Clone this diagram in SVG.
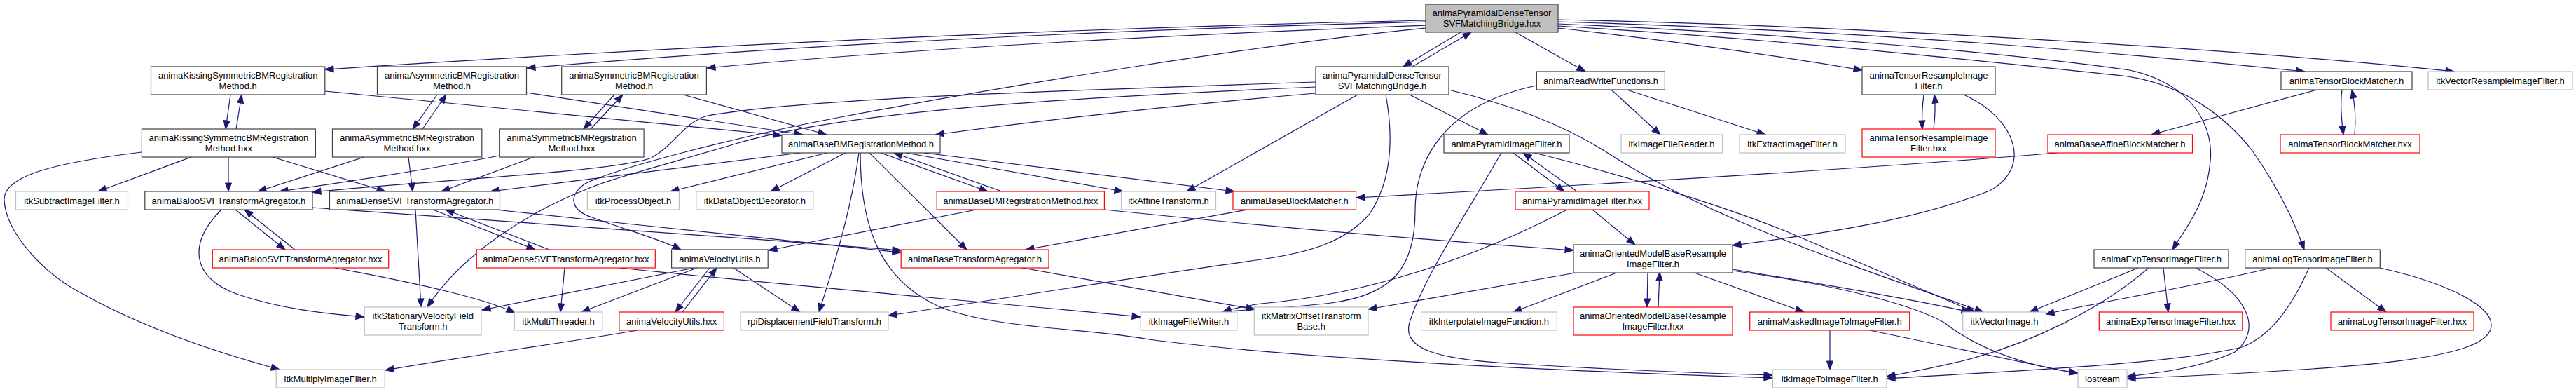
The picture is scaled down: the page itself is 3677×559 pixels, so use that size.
<svg xmlns="http://www.w3.org/2000/svg" width="3677" height="559" viewBox="0 0 3677 559">
<style>
.e{fill:none;stroke:#191970;stroke-width:1.2;marker-end:url(#ah)}
rect{fill:#fff;stroke-width:1.2}
.k rect{stroke:#404040}
.r rect{stroke:#ff0000}
.g rect{stroke:#bfbfbf}
.root rect{fill:#bfbfbf;stroke:#404040}
text{font-family:"Liberation Sans",Arial,Helvetica,sans-serif;font-size:13px;text-anchor:middle;fill:#000}
</style>
<defs>
<marker id="ah" markerUnits="userSpaceOnUse" markerWidth="14" markerHeight="11" refX="12" refY="4.5" orient="auto" overflow="visible"><path d="M0,0 L12,4.5 L0,9 z" fill="#191970" stroke="#191970" stroke-width="1"/></marker>
</defs>
<rect x="0" y="0" width="3677" height="559" fill="#fff" stroke="none"/>
<g id="edges">
<path class="e" d="M2035,29 Q1300,45 464,99"/>
<path class="e" d="M2035,31 Q1300,50 752,97"/>
<path class="e" d="M2035,36 Q1400,60 1009,97"/>
<path class="e" d="M2085,46 L2003,95"/>
<path class="e" d="M2016,95 L2100,46"/>
<path class="e" d="M2163,46 L2263,102"/>
<path class="e" d="M2224,40 Q2450,65 2658,100"/>
<path class="e" d="M2224,31 C2700,45 3050,78 3290,102"/>
<path class="e" d="M2224,28 C2700,38 3250,75 3503,102"/>
<path class="e" d="M2224,34 C2600,50 2900,80 3040,100 C3130,120 3160,180 3155,230 C3150,290 3120,325 3101,356"/>
<path class="e" d="M2224,37 C2600,60 2900,95 3030,108 C3120,120 3180,170 3215,215 C3250,265 3275,315 3289,356"/>
<path class="e" d="M2035,40 C1800,63 1450,120 1200,167 C1050,195 880,240 835,262 C810,280 815,300 845,310 C900,330 945,342 972,356"/>
<path class="e" d="M1878,117 C1500,130 1150,140 1010,165 C975,175 965,205 930,225 C880,245 600,258 446,274"/>
<path class="e" d="M1878,124 C1500,140 1200,160 1050,205 C950,235 870,255 837,270 C760,300 660,360 610,438"/>
<path class="e" d="M1878,133 C1700,148 1500,170 1335,192"/>
<path class="e" d="M1938,135 L1694,273"/>
<path class="e" d="M2012,135 L2124,192"/>
<path class="e" d="M1978,135 C1990,200 1985,260 1955,305 C1920,345 1870,360 1800,370 C1620,395 1420,428 1268,450"/>
<path class="e" d="M2068,128 C2180,155 2250,190 2290,215 C2450,320 2680,390 2831,445"/>
<path class="e" d="M329,135 L322,184"/>
<path class="e" d="M337,184 L345,135"/>
<path class="e" d="M464,130 L1116,193"/>
<path class="e" d="M624,135 L589,184"/>
<path class="e" d="M603,184 L637,135"/>
<path class="e" d="M751,132 L1146,192"/>
<path class="e" d="M877,135 L833,184"/>
<path class="e" d="M843,184 L889,135"/>
<path class="e" d="M975,135 L1180,192"/>
<path class="e" d="M273,224 L140,273"/>
<path class="e" d="M326,224 L326,273"/>
<path class="e" d="M389,224 L550,273"/>
<path class="e" d="M202,217 C80,232 5,250 6,285 C8,330 60,390 120,420 C200,465 300,500 399,527"/>
<path class="e" d="M520,224 L368,273"/>
<path class="e" d="M583,224 L589,273"/>
<path class="e" d="M713,222 C620,240 480,262 399,273"/>
<path class="e" d="M762,224 L630,273"/>
<path class="e" d="M1142,218 L700,273"/>
<path class="e" d="M1181,218 L957,273"/>
<path class="e" d="M1207,218 L1100,273"/>
<path class="e" d="M1226,218 C1215,300 1190,380 1169,445"/>
<path class="e" d="M1228,218 C1228,330 1260,400 1340,437 C1420,470 1560,468 1640,484 C1800,505 2100,525 2530,539"/>
<path class="e" d="M1257,218 L1410,273"/>
<path class="e" d="M1430,273 L1276,218"/>
<path class="e" d="M1293,218 L1603,273"/>
<path class="e" d="M1319,218 L1762,273"/>
<path class="e" d="M1241,218 L1380,356"/>
<path class="e" d="M1394,299 L1097,357"/>
<path class="e" d="M1576,299 C1800,322 2000,340 2246,357"/>
<path class="e" d="M1781,299 L1464,356"/>
<path class="e" d="M2936,218 C2700,238 2300,262 1936,282"/>
<path class="e" d="M3307,128 L3071,192"/>
<path class="e" d="M3343,128 C3340,150 3342,170 3345,192"/>
<path class="e" d="M3361,192 C3363,170 3362,150 3357,128"/>
<path class="e" d="M2746,135 C2744,150 2743,168 2744,184"/>
<path class="e" d="M2760,184 C2762,168 2763,150 2761,135"/>
<path class="e" d="M2803,135 C2880,170 2900,240 2840,272 C2720,320 2560,338 2473,350"/>
<path class="e" d="M2300,128 L2370,192"/>
<path class="e" d="M2322,128 L2520,192"/>
<path class="e" d="M2193,122 C2060,150 2020,230 2020,300 C2020,380 1990,420 1900,432 C1830,440 1780,441 1745,445"/>
<path class="e" d="M2160,218 L2233,273"/>
<path class="e" d="M2251,273 L2174,218"/>
<path class="e" d="M2190,218 C2300,245 2450,290 2550,330 C2650,372 2750,415 2819,445"/>
<path class="e" d="M2143,218 C2090,310 2030,400 2012,460 C2000,500 2060,512 2150,518 C2300,527 2420,532 2530,535"/>
<path class="e" d="M2273,299 L2334,349"/>
<path class="e" d="M2237,299 C2100,370 1950,420 1800,433 C1780,436 1760,440 1745,445"/>
<path class="e" d="M2352,388 L2351,438"/>
<path class="e" d="M2367,438 L2369,388"/>
<path class="e" d="M2255,388 L1953,441"/>
<path class="e" d="M2310,388 L2160,445"/>
<path class="e" d="M2416,388 L2575,445"/>
<path class="e" d="M2473,384 C2600,405 2720,425 2812,445"/>
<path class="e" d="M2473,386 C2650,410 2740,440 2775,460 C2820,495 2880,520 2966,532"/>
<path class="e" d="M2612,471 L2612,527"/>
<path class="e" d="M2669,471 L2966,533"/>
<path class="e" d="M991,382 L688,442"/>
<path class="e" d="M995,382 L830,445"/>
<path class="e" d="M1013,382 L964,445"/>
<path class="e" d="M974,445 L1023,382"/>
<path class="e" d="M1047,382 L1142,445"/>
<path class="e" d="M910,471 C800,490 650,510 550,528"/>
<path class="e" d="M806,382 L800,445"/>
<path class="e" d="M885,382 C1100,405 1400,430 1628,452"/>
<path class="e" d="M784,356 L636,299"/>
<path class="e" d="M618,299 L764,356"/>
<path class="e" d="M707,299 C900,320 1100,340 1286,360"/>
<path class="e" d="M593,299 L601,438"/>
<path class="e" d="M336,299 L407,356"/>
<path class="e" d="M421,356 L349,299"/>
<path class="e" d="M316,299 C270,345 270,395 340,420 C400,440 460,447 520,452"/>
<path class="e" d="M446,296 C700,312 1000,335 1286,357"/>
<path class="e" d="M478,382 C600,405 690,425 735,446"/>
<path class="e" d="M1459,382 L1791,441"/>
<path class="e" d="M3052,382 L2897,445"/>
<path class="e" d="M3067,382 C3000,440 2900,490 2800,515 C2750,527 2720,532 2693,537"/>
<path class="e" d="M3088,382 L3095,445"/>
<path class="e" d="M3134,382 C3210,420 3230,470 3190,502 C3140,525 3080,532 3036,537"/>
<path class="e" d="M3242,382 C3150,405 3000,430 2920,448"/>
<path class="e" d="M3296,382 C3270,440 3240,480 3200,495 C3100,520 2850,530 2693,540"/>
<path class="e" d="M3320,382 L3406,445"/>
<path class="e" d="M3397,382 C3500,405 3565,440 3555,470 C3540,510 3400,525 3036,540"/>
</g>
<g id="n1" class="root"><rect x="2035" y="6" width="189" height="40"/><text x="2129.5" y="22.5">animaPyramidalDenseTensor</text><text x="2129.5" y="37.5">SVFMatchingBridge.hxx</text></g>
<g id="n2" class="k"><rect x="1878" y="95" width="190" height="40"/><text x="1973" y="111.5">animaPyramidalDenseTensor</text><text x="1973" y="126.5">SVFMatchingBridge.h</text></g>
<g id="n3" class="k"><rect x="215.5" y="95" width="248.3" height="40"/><text x="339.7" y="111.5">animaKissingSymmetricBMRegistration</text><text x="339.7" y="126.5">Method.h</text></g>
<g id="n4" class="k"><rect x="538.5" y="95" width="213" height="40"/><text x="645" y="111.5">animaAsymmetricBMRegistration</text><text x="645" y="126.5">Method.h</text></g>
<g id="n5" class="k"><rect x="801.7" y="95" width="206.7" height="40"/><text x="905" y="111.5">animaSymmetricBMRegistration</text><text x="905" y="126.5">Method.h</text></g>
<g id="n6" class="k"><rect x="2193.4" y="102" width="183" height="26"/><text x="2285" y="119.5">animaReadWriteFunctions.h</text></g>
<g id="n7" class="k"><rect x="2658" y="95" width="190" height="40"/><text x="2753" y="111.5">animaTensorResampleImage</text><text x="2753" y="126.5">Filter.h</text></g>
<g id="n8" class="k"><rect x="3256" y="102" width="187" height="26"/><text x="3349.5" y="119.5">animaTensorBlockMatcher.h</text></g>
<g id="n9" class="g"><rect x="3466" y="102" width="206" height="26"/><text x="3569" y="119.5">itkVectorResampleImageFilter.h</text></g>
<g id="n10" class="k"><rect x="202.4" y="184" width="248" height="40"/><text x="326.4" y="200.5">animaKissingSymmetricBMRegistration</text><text x="326.4" y="215.5">Method.hxx</text></g>
<g id="n11" class="k"><rect x="474.5" y="184" width="213.3" height="40"/><text x="581" y="200.5">animaAsymmetricBMRegistration</text><text x="581" y="215.5">Method.hxx</text></g>
<g id="n12" class="k"><rect x="712.7" y="184" width="206.4" height="40"/><text x="816" y="200.5">animaSymmetricBMRegistration</text><text x="816" y="215.5">Method.hxx</text></g>
<g id="n13" class="k"><rect x="1116" y="192" width="226" height="26"/><text x="1229" y="209.5">animaBaseBMRegistrationMethod.h</text></g>
<g id="n14" class="k"><rect x="2061" y="192" width="179" height="26"/><text x="2150.5" y="209.5">animaPyramidImageFilter.h</text></g>
<g id="n15" class="g"><rect x="2314" y="192" width="144.5" height="26"/><text x="2386" y="209.5">itkImageFileReader.h</text></g>
<g id="n16" class="g"><rect x="2483" y="192" width="151" height="26"/><text x="2558.5" y="209.5">itkExtractImageFilter.h</text></g>
<g id="n17" class="r"><rect x="2658" y="184" width="190" height="40"/><text x="2753" y="200.5">animaTensorResampleImage</text><text x="2753" y="215.5">Filter.hxx</text></g>
<g id="n18" class="r"><rect x="2923" y="192" width="206.5" height="26"/><text x="3026" y="209.5">animaBaseAffineBlockMatcher.h</text></g>
<g id="n19" class="r"><rect x="3255" y="192" width="199" height="26"/><text x="3354.5" y="209.5">animaTensorBlockMatcher.hxx</text></g>
<g id="n20" class="g"><rect x="22.5" y="273" width="160" height="26"/><text x="102.5" y="290.5">itkSubtractImageFilter.h</text></g>
<g id="n21" class="k"><rect x="206.8" y="273" width="239.2" height="26"/><text x="326.4" y="290.5">animaBalooSVFTransformAgregator.h</text></g>
<g id="n22" class="k"><rect x="470.5" y="273" width="243" height="26"/><text x="592" y="290.5">animaDenseSVFTransformAgregator.h</text></g>
<g id="n23" class="g"><rect x="838.4" y="273" width="131" height="26"/><text x="904" y="290.5">itkProcessObject.h</text></g>
<g id="n24" class="g"><rect x="993.8" y="273" width="167" height="26"/><text x="1077.3" y="290.5">itkDataObjectDecorator.h</text></g>
<g id="n25" class="r"><rect x="1337.2" y="273" width="239.2" height="26"/><text x="1456.8" y="290.5">animaBaseBMRegistrationMethod.hxx</text></g>
<g id="n26" class="g"><rect x="1600.5" y="273" width="135" height="26"/><text x="1668" y="290.5">itkAffineTransform.h</text></g>
<g id="n27" class="r"><rect x="1760" y="273" width="175.6" height="26"/><text x="1847.8" y="290.5">animaBaseBlockMatcher.h</text></g>
<g id="n28" class="r"><rect x="2163" y="273" width="191" height="26"/><text x="2258.5" y="290.5">animaPyramidImageFilter.hxx</text></g>
<g id="n29" class="r"><rect x="303.3" y="356" width="251.4" height="26"/><text x="429" y="373.5">animaBalooSVFTransformAgregator.hxx</text></g>
<g id="n30" class="r"><rect x="680.3" y="356" width="255" height="26"/><text x="807.8" y="373.5">animaDenseSVFTransformAgregator.hxx</text></g>
<g id="n31" class="k"><rect x="958.6" y="356" width="137.6" height="26"/><text x="1027.4" y="373.5">animaVelocityUtils.h</text></g>
<g id="n32" class="r"><rect x="1286.2" y="356" width="210.8" height="26"/><text x="1391.6" y="373.5">animaBaseTransformAgregator.h</text></g>
<g id="n33" class="k"><rect x="2246" y="349" width="227" height="40"/><text x="2359.5" y="365.5">animaOrientedModelBaseResample</text><text x="2359.5" y="380.5">ImageFilter.h</text></g>
<g id="n34" class="k"><rect x="2989" y="356" width="192" height="26"/><text x="3085" y="373.5">animaExpTensorImageFilter.h</text></g>
<g id="n35" class="k"><rect x="3204.7" y="356" width="192.6" height="26"/><text x="3301" y="373.5">animaLogTensorImageFilter.h</text></g>
<g id="n36" class="g"><rect x="520.3" y="438" width="166.7" height="40"/><text x="603.7" y="454.5">itkStationaryVelocityField</text><text x="603.7" y="469.5">Transform.h</text></g>
<g id="n37" class="g"><rect x="734.4" y="445" width="125.4" height="26"/><text x="797" y="462.5">itkMultiThreader.h</text></g>
<g id="n38" class="r"><rect x="883.9" y="445" width="149.5" height="26"/><text x="958.6" y="462.5">animaVelocityUtils.hxx</text></g>
<g id="n39" class="g"><rect x="1057" y="445" width="211" height="26"/><text x="1162.5" y="462.5">rpiDisplacementFieldTransform.h</text></g>
<g id="n40" class="g"><rect x="1628.2" y="445" width="137.6" height="26"/><text x="1697" y="462.5">itkImageFileWriter.h</text></g>
<g id="n41" class="g"><rect x="1790.3" y="438" width="162.7" height="40"/><text x="1871.7" y="454.5">itkMatrixOffsetTransform</text><text x="1871.7" y="469.5">Base.h</text></g>
<g id="n42" class="g"><rect x="2028.5" y="445" width="193.8" height="26"/><text x="2125.4" y="462.5">itkInterpolateImageFunction.h</text></g>
<g id="n43" class="r"><rect x="2246" y="438" width="227" height="40"/><text x="2359.5" y="454.5">animaOrientedModelBaseResample</text><text x="2359.5" y="469.5">ImageFilter.hxx</text></g>
<g id="n44" class="r"><rect x="2497.7" y="445" width="228" height="26"/><text x="2611.7" y="462.5">animaMaskedImageToImageFilter.h</text></g>
<g id="n45" class="g"><rect x="2801.7" y="445" width="118.7" height="26"/><text x="2861" y="462.5">itkVectorImage.h</text></g>
<g id="n46" class="r"><rect x="2996.3" y="445" width="204.5" height="26"/><text x="3098.5" y="462.5">animaExpTensorImageFilter.hxx</text></g>
<g id="n47" class="r"><rect x="3327" y="445" width="204" height="26"/><text x="3429" y="462.5">animaLogTensorImageFilter.hxx</text></g>
<g id="n48" class="g"><rect x="394.2" y="527" width="155" height="26"/><text x="471.7" y="544.5">itkMultiplyImageFilter.h</text></g>
<g id="n49" class="g"><rect x="2530.5" y="527" width="162.5" height="26"/><text x="2611.7" y="544.5">itkImageToImageFilter.h</text></g>
<g id="n50" class="g"><rect x="2966" y="527" width="70" height="26"/><text x="3001" y="544.5">iostream</text></g>
</svg>
